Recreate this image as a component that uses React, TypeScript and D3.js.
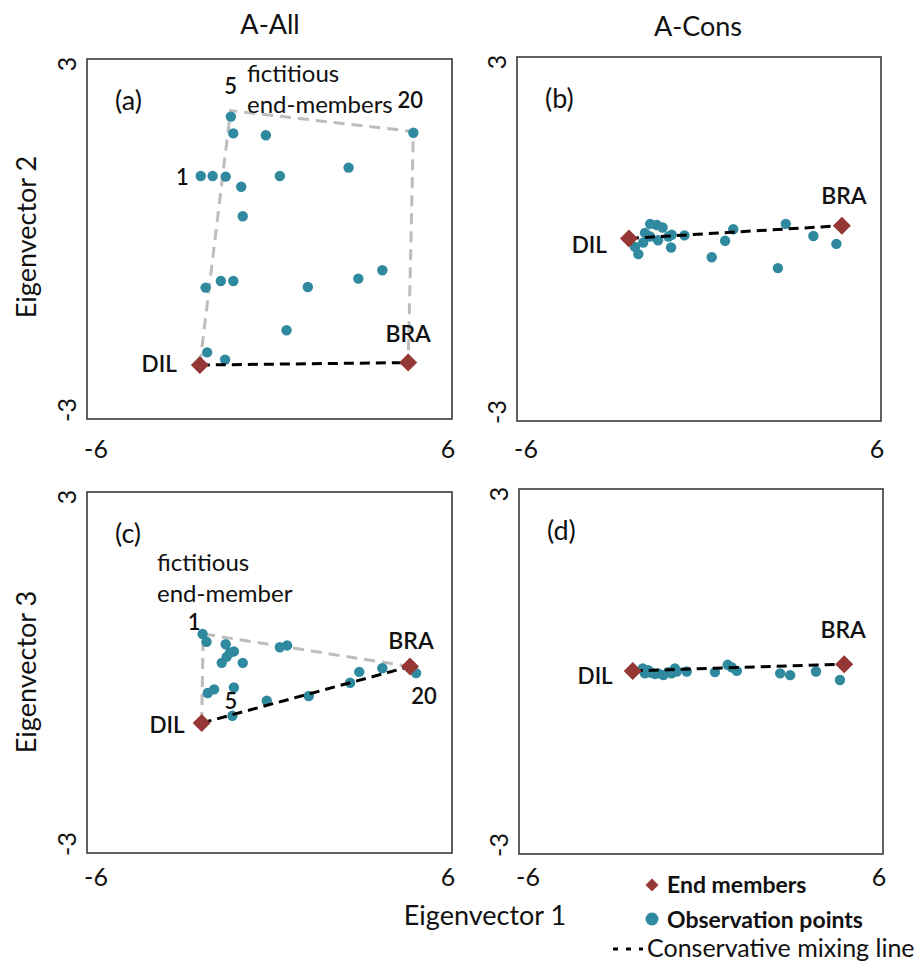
import React from "react";
import * as d3 from "d3";

// ---------- DATA ----------
const colTitles = ["A-All", "A-Cons"];
const xTickLabels = ["-6", "6"];
const yTickLabels = ["3", "-3"];
const xDomain = [-6, 6];
const yDomain = [-3, 3];

// Panel (a): A-All, Eigenvector 1 vs 2
const aObsX = [-1.27, -1.19, -0.12, 4.73, -2.26, -1.87, -1.44, -0.93, 0.34, 2.6, -0.88, -2.1, -1.6, -1.19, 1.26, 2.92, 3.71, 0.56, -2.05, -1.46];
const aObsY = [2.04, 1.76, 1.73, 1.77, 1.05, 1.05, 1.04, 0.87, 1.05, 1.19, 0.38, -0.81, -0.7, -0.7, -0.8, -0.66, -0.52, -1.52, -1.89, -2.01];
const aEnd = [{ name: "DIL", x: -2.29, y: -2.1 }, { name: "BRA", x: 4.56, y: -2.06 }];
const aFict = [{ name: "5", x: -1.28, y: 2.14 }, { name: "20", x: 4.73, y: 1.79 }];

// Panel (b): A-Cons, Eigenvector 1 vs 2
const bObsX = [-2.0, -1.84, -1.61, -1.61, -1.39, -1.2, -1.01, -0.9, -0.92, -0.48, 0.42, 0.86, 1.13, 2.6, 2.86, 3.77, 4.53, -2.11, -1.78, -1.35];
const bObsY = [-0.25, -0.06, 0.04, 0.25, 0.23, 0.19, 0.04, 0.07, -0.14, 0.06, -0.3, -0.03, 0.16, -0.48, 0.25, 0.05, -0.08, -0.13, 0.1, -0.02];
const bEnd = [{ name: "DIL", x: -2.31, y: 0.01 }, { name: "BRA", x: 4.71, y: 0.22 }];

// Panel (c): A-All, Eigenvector 1 vs 3
const cObsX = [-2.2, -2.07, -1.44, -1.17, -1.41, -1.57, -0.88, 0.34, 0.58, -2.03, -1.82, -1.17, -1.22, -0.09, 1.29, 2.65, 2.95, 3.71, 4.82, -1.3];
const cObsY = [0.64, 0.51, 0.47, 0.35, 0.26, 0.16, 0.16, 0.42, 0.45, -0.34, -0.28, -0.25, -0.72, -0.47, -0.39, -0.17, 0.01, 0.07, -0.01, 0.33];
const cEnd = [{ name: "DIL", x: -2.23, y: -0.84 }, { name: "BRA", x: 4.62, y: 0.1 }];
const cFict = [{ name: "1", x: -2.18, y: 0.64 }];

// Panel (d): A-Cons, Eigenvector 1 vs 3
const dObsX = [-1.92, -1.85, -1.63, -1.41, -1.24, -1.08, -0.86, -0.8, -0.47, 0.46, 0.88, 1.01, 1.18, 2.61, 2.94, 3.79, 4.58, -1.74, -1.52, -0.97];
const dObsY = [0.05, -0.03, -0.02, -0.03, -0.06, -0.01, 0.05, 0.0, 0.0, -0.01, 0.11, 0.07, 0.01, -0.03, -0.06, 0.0, -0.14, 0.02, -0.04, -0.03];
const dEnd = [{ name: "DIL", x: -2.25, y: 0.01 }, { name: "BRA", x: 4.72, y: 0.12 }];

const legendLabels = ["End members", "Observation points", "Conservative mixing line"];

// ---------- STYLE ----------
const FONT = "Lato, 'Open Sans', sans-serif";
const TEAL = "#2f8aa0";
const RED = "#953735";
const GRAY = "#bdbdbd";
const TEXT = "#111";

type Pt = { name: string; x: number; y: number };
type Ann = { text: string; dx: number; dy: number; anchor: string };

interface PanelSpec {
  tag: string;
  left: number; top: number; w: number; h: number;
  tickBase: number;
  obsX: number[]; obsY: number[];
  end: Pt[];
  fict: Pt[];
  polygon: Pt[] | null;
  dilOff: [number, number];
  braOff: [number, number];
  fictOff: { [k: string]: [number, number, string] };
  extra: Ann[];
  numLabels: { text: string; at: number; dx: number; dy: number; anchor: string }[];
}

const panels: PanelSpec[] = [
  {
    tag: "(a)", left: 87, top: 59, w: 365, h: 360, tickBase: 458,
    obsX: aObsX, obsY: aObsY, end: aEnd, fict: aFict,
    polygon: [aEnd[0], aFict[0], aFict[1], aEnd[1]],
    dilOff: [-23, 7], braOff: [0, -21],
    fictOff: { "5": [0, -17, "middle"], "20": [-3, -24, "middle"] },
    extra: [
      { text: "fictitious", dx: 160, dy: 23, anchor: "start" },
      { text: "end-members", dx: 160, dy: 54, anchor: "start" },
    ],
    numLabels: [{ text: "1", at: 4, dx: -12, dy: 9, anchor: "end" }],
  },
  {
    tag: "(b)", left: 517, top: 57, w: 364, h: 364, tickBase: 458,
    obsX: bObsX, obsY: bObsY, end: bEnd, fict: [], polygon: null,
    dilOff: [-22, 15], braOff: [2, -22], fictOff: {}, extra: [], numLabels: [],
  },
  {
    tag: "(c)", left: 87, top: 492, w: 365, h: 361, tickBase: 886,
    obsX: cObsX, obsY: cObsY, end: cEnd, fict: cFict,
    polygon: [cEnd[0], cFict[0], cEnd[1]],
    dilOff: [-17, 10], braOff: [1, -17],
    fictOff: { "1": [-9, -4, "middle"] },
    extra: [
      { text: "fictitious", dx: 70, dy: 79, anchor: "start" },
      { text: "end-member", dx: 70, dy: 110, anchor: "start" },
    ],
    numLabels: [
      { text: "5", at: 11, dx: -3, dy: 21, anchor: "middle" },
      { text: "20", at: 18, dx: 8, dy: 31, anchor: "middle" },
    ],
  },
  {
    tag: "(d)", left: 519, top: 489, w: 364, h: 365, tickBase: 886,
    obsX: dObsX, obsY: dObsY, end: dEnd, fict: [], polygon: null,
    dilOff: [-20, 13], braOff: [-1, -26], fictOff: {}, extra: [], numLabels: [],
  },
];

const diamond = (cx: number, cy: number, r: number) =>
  `M${cx},${cy - r}L${cx + r},${cy}L${cx},${cy + r}L${cx - r},${cy}Z`;

function Panel({ p }: { p: PanelSpec }) {
  const x = d3.scaleLinear().domain(xDomain).range([p.left, p.left + p.w]);
  const y = d3.scaleLinear().domain(yDomain).range([p.top + p.h, p.top]);
  const line = d3.line<Pt>().x((d) => x(d.x)).y((d) => y(d.y));
  const dil = p.end[0];
  const bra = p.end[1];
  const tickX = p.left - 21;
  return (
    <g>
      <rect x={p.left} y={p.top} width={p.w} height={p.h} fill="none" stroke="#3a3a3a" strokeWidth={1.6} />
      {/* y ticks (rotated) */}
      <text transform={`translate(${tickX},${y(3) + 5}) rotate(-90)`} textAnchor="middle" dominantBaseline="central" fontSize={25} fill={TEXT}>{yTickLabels[0]}</text>
      <text transform={`translate(${tickX},${y(-3) - 9}) rotate(-90)`} textAnchor="middle" dominantBaseline="central" fontSize={25} fill={TEXT}>{yTickLabels[1]}</text>
      {/* x ticks */}
      <text x={x(-6) + 9} y={p.tickBase} textAnchor="middle" fontSize={25} fill={TEXT}>{xTickLabels[0]}</text>
      <text x={x(6) - 4} y={p.tickBase} textAnchor="middle" fontSize={25} fill={TEXT}>{xTickLabels[1]}</text>
      {/* panel tag */}
      <text x={p.left + 28} y={p.top + 51} fontSize={27} fill={TEXT}>{p.tag}</text>
      {p.polygon && (
        <path d={line(p.polygon) || ""} fill="none" stroke={GRAY} strokeWidth={3} strokeDasharray="11,7" />
      )}
      {p.obsX.map((vx, i) => (
        <circle key={i} cx={x(vx)} cy={y(p.obsY[i])} r={5.2} fill={TEAL} />
      ))}
      <path d={line([dil, bra]) || ""} fill="none" stroke="#000" strokeWidth={3} strokeDasharray="10,6" />
      {p.end.map((e) => (
        <path key={e.name} d={diamond(x(e.x), y(e.y), 9)} fill={RED} />
      ))}
      <text x={x(dil.x) + p.dilOff[0]} y={y(dil.y) + p.dilOff[1]} textAnchor="end" fontSize={22.5} fontWeight={600} fill={TEXT}>{dil.name}</text>
      <text x={x(bra.x) + p.braOff[0]} y={y(bra.y) + p.braOff[1]} textAnchor="middle" fontSize={23} fontWeight={600} fill={TEXT}>{bra.name}</text>
      {p.fict.map((f) => {
        const o = p.fictOff[f.name];
        return (
          <text key={f.name} x={x(f.x) + o[0]} y={y(f.y) + o[1]} textAnchor={o[2]} fontSize={22} fontWeight={600} fill={TEXT}>{f.name}</text>
        );
      })}
      {p.numLabels.map((n) => (
        <text key={n.text} x={x(p.obsX[n.at]) + n.dx} y={y(p.obsY[n.at]) + n.dy} textAnchor={n.anchor} fontSize={22} fontWeight={600} fill={TEXT}>{n.text}</text>
      ))}
      {p.extra.map((a) => (
        <text key={a.text} x={p.left + a.dx} y={p.top + a.dy} textAnchor={a.anchor} fontSize={24} fill={TEXT}>{a.text}</text>
      ))}
    </g>
  );
}

export default function App() {
  return (
    <svg width={924} height={973} style={{ position: "absolute", left: 0, top: 0, background: "#fff" }} fontFamily={FONT}>
      <rect width={924} height={973} fill="#fff" />
      <text x={270} y={34} textAnchor="middle" fontSize={27} fill={TEXT}>{colTitles[0]}</text>
      <text x={698} y={36} textAnchor="middle" fontSize={27} fill={TEXT}>{colTitles[1]}</text>
      <text transform="translate(25,237) rotate(-90)" textAnchor="middle" dominantBaseline="central" fontSize={27} fill={TEXT}>Eigenvector 2</text>
      <text transform="translate(25,672) rotate(-90)" textAnchor="middle" dominantBaseline="central" fontSize={27} fill={TEXT}>Eigenvector 3</text>
      <text x={485} y={925} textAnchor="middle" fontSize={27} fill={TEXT}>Eigenvector 1</text>
      {panels.map((p) => (
        <Panel key={p.tag} p={p} />
      ))}
      {/* legend */}
      <path d={diamond(652, 885, 6.5)} fill={RED} />
      <text x={667} y={893} fontSize={23} fontWeight={700} fill={TEXT}>{legendLabels[0]}</text>
      <circle cx={652} cy={919} r={6.5} fill={TEAL} />
      <text x={667} y={928} fontSize={23} fontWeight={700} fill={TEXT}>{legendLabels[1]}</text>
      <line x1={613} x2={643} y1={949} y2={949} stroke="#000" strokeWidth={3} strokeDasharray="5,8" />
      <text x={647} y={957} fontSize={25} fill={TEXT}>{legendLabels[2]}</text>
    </svg>
  );
}
